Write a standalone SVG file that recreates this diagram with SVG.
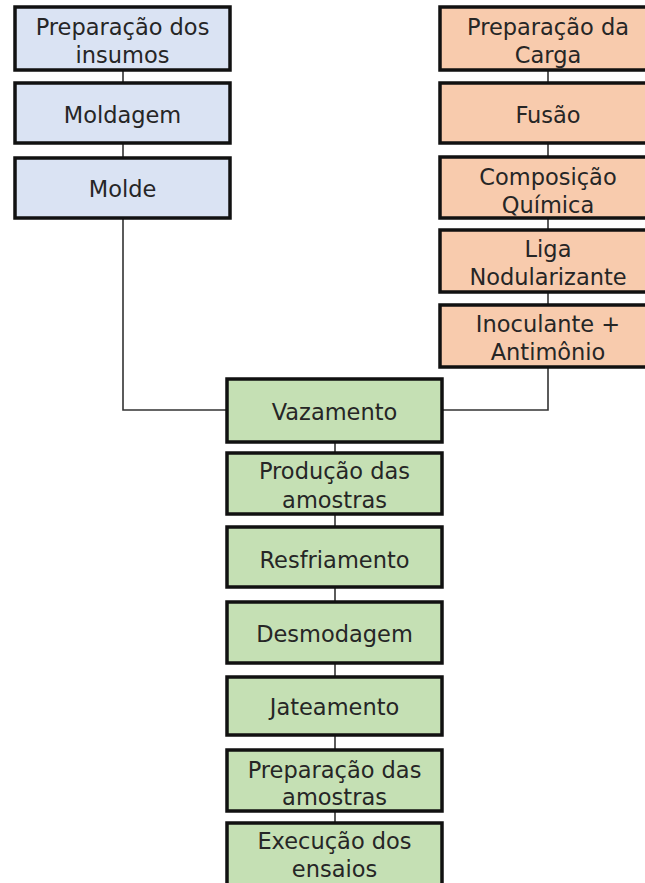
<svg xmlns="http://www.w3.org/2000/svg" width="645" height="883" viewBox="0 0 645 883">
<style>
.box{stroke:#111;stroke-width:3.5}
.b{fill:#dae3f3}
.o{fill:#f8cbad}
.g{fill:#c5e0b4}
text{font-family:"DejaVu Sans",Verdana,sans-serif;font-size:22.5px;fill:#262626;text-anchor:middle}
.c{stroke:#333;stroke-width:1.6;fill:none}
</style>
<rect width="645" height="883" fill="#fff"/>
<g id="connectors">
<line class="c" x1="123" y1="70" x2="123" y2="83"/>
<line class="c" x1="123" y1="143" x2="123" y2="158"/>
<polyline class="c" points="123,218 123,410 227,410"/>
<line class="c" x1="548" y1="70" x2="548" y2="83"/>
<line class="c" x1="548" y1="143" x2="548" y2="157"/>
<line class="c" x1="548" y1="218" x2="548" y2="230"/>
<line class="c" x1="548" y1="292" x2="548" y2="305"/>
<polyline class="c" points="548,367 548,410 442,410"/>
<line class="c" x1="335" y1="442" x2="335" y2="453"/>
<line class="c" x1="335" y1="514" x2="335" y2="527"/>
<line class="c" x1="335" y1="587" x2="335" y2="602"/>
<line class="c" x1="335" y1="663" x2="335" y2="677"/>
<line class="c" x1="335" y1="735" x2="335" y2="750"/>
<line class="c" x1="335" y1="811" x2="335" y2="823"/>
</g>
<g id="n-prep-insumos"><rect class="box b" x="15" y="7" width="215" height="63"/><text x="122.5" y="35">Preparação dos</text><text x="122.5" y="63">insumos</text></g>
<g id="n-moldagem"><rect class="box b" x="15" y="83" width="215" height="60"/><text x="122.5" y="123">Moldagem</text></g>
<g id="n-molde"><rect class="box b" x="15" y="158" width="215" height="60"/><text x="122.5" y="197">Molde</text></g>
<g id="n-prep-carga"><rect class="box o" x="440" y="7" width="216" height="63"/><text x="548" y="35">Preparação da</text><text x="548" y="63">Carga</text></g>
<g id="n-fusao"><rect class="box o" x="440" y="83" width="216" height="60"/><text x="548" y="123">Fusão</text></g>
<g id="n-composicao"><rect class="box o" x="440" y="157" width="216" height="61"/><text x="548" y="185">Composição</text><text x="548" y="213">Química</text></g>
<g id="n-liga"><rect class="box o" x="440" y="230" width="216" height="62"/><text x="548" y="257">Liga</text><text x="548" y="285">Nodularizante</text></g>
<g id="n-inoculante"><rect class="box o" x="440" y="305" width="216" height="62"/><text x="548" y="332">Inoculante +</text><text x="548" y="360">Antimônio</text></g>
<g id="n-vazamento"><rect class="box g" x="227" y="379" width="215" height="63"/><text x="334.5" y="420">Vazamento</text></g>
<g id="n-producao"><rect class="box g" x="227" y="453" width="215" height="61"/><text x="334.5" y="479">Produção das</text><text x="334.5" y="508">amostras</text></g>
<g id="n-resfriamento"><rect class="box g" x="227" y="527" width="215" height="60"/><text x="334.5" y="568">Resfriamento</text></g>
<g id="n-desmodagem"><rect class="box g" x="227" y="602" width="215" height="61"/><text x="334.5" y="642">Desmodagem</text></g>
<g id="n-jateamento"><rect class="box g" x="227" y="677" width="215" height="58"/><text x="334.5" y="715">Jateamento</text></g>
<g id="n-prep-amostras"><rect class="box g" x="227" y="750" width="215" height="61"/><text x="334.5" y="778">Preparação das</text><text x="334.5" y="805">amostras</text></g>
<g id="n-execucao"><rect class="box g" x="227" y="823" width="215" height="70"/><text x="334.5" y="849">Execução dos</text><text x="334.5" y="877">ensaios</text></g>
</svg>
